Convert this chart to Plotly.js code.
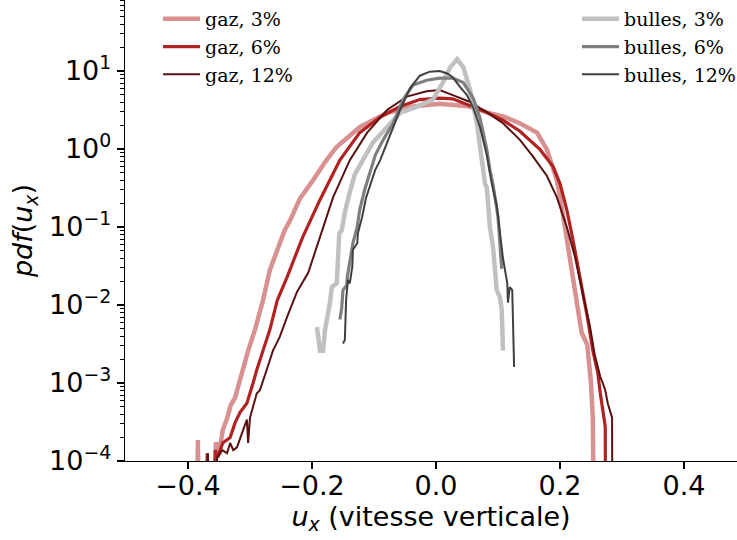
<!DOCTYPE html>
<html>
<head>
<meta charset="utf-8">
<script src="https://cdn.plot.ly/plotly-3.0.1.min.js"></script>
<style>html,body{margin:0;padding:0;background:#fff;}#chart{width:737px;height:540px;}</style>
</head>
<body>
<div id="chart"></div>
<script>
// ---- data (u_x, pdf) ----
const gaz3_u = [-0.387, -0.384, -0.381, -0.360, -0.355, -0.350, -0.344, -0.337, -0.331, -0.324, -0.319, -0.311, -0.303, -0.292, -0.279, -0.268, -0.256, -0.244, -0.235, -0.219, -0.198, -0.179, -0.160, -0.123, -0.079, -0.037, 0.006, 0.055, 0.082, 0.111, 0.135, 0.163, 0.179, 0.195, 0.205, 0.213, 0.224, 0.235, 0.244, 0.250, 0.253, 0.256];
const gaz3_pdf = [1e-6, 1.86e-4, 1e-6, 1e-6, 1.74e-4, 1.2e-4, 2.5e-4, 3.5e-4, 5.2e-4, 6.5e-4, 9.3e-4, 1.48e-3, 2.6e-3, 4.8e-3, 0.0115, 0.028, 0.051, 0.091, 0.123, 0.234, 0.40, 0.68, 1.07, 1.9, 2.9, 3.5, 3.8, 3.5, 2.95, 2.57, 2.14, 1.62, 0.98, 0.40, 0.141, 0.051, 0.0155, 4.4e-3, 3.1e-3, 1.0e-3, 3.4e-4, 1e-6];

const gaz6_u = [-0.373, -0.369, -0.361, -0.356, -0.352, -0.344, -0.332, -0.324, -0.316, -0.305, -0.295, -0.289, -0.279, -0.268, -0.256, -0.240, -0.215, -0.187, -0.155, -0.123, -0.090, -0.058, -0.026, 0.006, 0.027, 0.055, 0.082, 0.108, 0.135, 0.168, 0.189, 0.200, 0.211, 0.221, 0.232, 0.244, 0.253, 0.261, 0.265, 0.268, 0.273, 0.274];
const gaz6_pdf = [1e-6, 1.26e-4, 1e-6, 1.38e-4, 1.12e-4, 1.7e-4, 2.0e-4, 3.1e-4, 4.2e-4, 5.5e-4, 1.0e-3, 1.48e-3, 2.6e-3, 4.8e-3, 0.0115, 0.023, 0.074, 0.224, 0.72, 1.62, 2.57, 3.5, 4.3, 4.5, 4.4, 3.6, 2.95, 2.34, 1.70, 0.98, 0.59, 0.36, 0.166, 0.068, 0.024, 7.1e-3, 2.6e-3, 1.35e-3, 7.4e-4, 4.9e-4, 2.75e-4, 1e-6];

const gaz12_u = [-0.373, -0.368, -0.360, -0.353, -0.345, -0.337, -0.332, -0.327, -0.321, -0.316, -0.311, -0.305, -0.303, -0.300, -0.295, -0.289, -0.284, -0.276, -0.273, -0.263, -0.252, -0.240, -0.224, -0.206, -0.187, -0.166, -0.139, -0.111, -0.079, -0.047, -0.015, 0.006, 0.027, 0.055, 0.082, 0.108, 0.135, 0.156, 0.179, 0.195, 0.211, 0.224, 0.237, 0.248, 0.256, 0.265, 0.269, 0.273, 0.277, 0.284, 0.285];
const gaz12_pdf = [1e-6, 1.26e-4, 1e-6, 1.1e-4, 1.38e-4, 1.26e-4, 1.7e-4, 1.38e-4, 1.5e-4, 2.0e-4, 2.5e-4, 3.4e-4, 1.7e-4, 3.6e-4, 4.9e-4, 7.4e-4, 8.1e-4, 1.2e-3, 1.48e-3, 2.6e-3, 3.9e-3, 7.1e-3, 0.0148, 0.026, 0.074, 0.24, 0.72, 1.62, 3.16, 4.7, 5.5, 5.7, 4.9, 4.0, 2.95, 2.14, 1.32, 0.81, 0.45, 0.24, 0.10, 0.042, 0.0135, 5.5e-3, 2.3e-3, 1.2e-3, 1.0e-3, 8.1e-4, 5.5e-4, 3.6e-4, 1e-6];

const bul3_u = [-0.192, -0.187, -0.182, -0.179, -0.171, -0.168, -0.160, -0.158, -0.156, -0.152, -0.147, -0.139, -0.131, -0.118, -0.102, -0.079, -0.058, -0.031, -0.005, 0.011, 0.023, 0.034, 0.044, 0.055, 0.066, 0.074, 0.079, 0.082, 0.087, 0.092, 0.098, 0.103, 0.106, 0.108];
const bul3_pdf = [5.2e-3, 2.6e-3, 2.6e-3, 4.8e-3, 0.0107, 0.017, 0.019, 0.042, 0.083, 0.091, 0.155, 0.28, 0.47, 0.72, 1.2, 1.9, 2.9, 3.5, 4.3, 7.1, 11.2, 14.1, 11.2, 5.7, 2.14, 0.72, 0.36, 0.32, 0.10, 0.055, 0.0155, 0.0126, 8.7e-3, 2.6e-3];

const bul6_u = [-0.155, -0.152, -0.150, -0.144, -0.143, -0.139, -0.134, -0.127, -0.123, -0.115, -0.106, -0.098, -0.085, -0.069, -0.053, -0.037, -0.015, 0.006, 0.027, 0.044, 0.060, 0.071, 0.082, 0.087, 0.092, 0.100, 0.103, 0.106];
const bul6_pdf = [6.5e-3, 9.3e-3, 0.0155, 0.018, 0.023, 0.035, 0.062, 0.10, 0.166, 0.30, 0.51, 0.83, 1.32, 2.14, 4.3, 6.6, 7.6, 8.1, 8.1, 7.1, 4.5, 2.5, 0.98, 0.54, 0.35, 0.135, 0.062, 0.029];

const bul12_u = [-0.150, -0.147, -0.145, -0.142, -0.139, -0.135, -0.134, -0.127, -0.126, -0.119, -0.113, -0.106, -0.098, -0.090, -0.074, -0.058, -0.042, -0.026, -0.010, 0.006, 0.018, 0.027, 0.039, 0.050, 0.060, 0.071, 0.082, 0.090, 0.098, 0.103, 0.108, 0.115, 0.116, 0.119, 0.123, 0.124, 0.125, 0.126];
const bul12_pdf = [3.2e-3, 3.55e-3, 0.0115, 0.021, 0.019, 0.031, 0.051, 0.062, 0.083, 0.135, 0.234, 0.35, 0.54, 0.72, 1.51, 3.16, 6.0, 8.7, 9.8, 10.0, 9.3, 8.3, 6.2, 4.9, 3.4, 1.9, 0.83, 0.36, 0.19, 0.091, 0.040, 0.019, 0.0107, 0.017, 0.0155, 7.1e-3, 3.2e-3, 1.6e-3];

const seriesNames = ['gaz, 3%', 'gaz, 6%', 'gaz, 12%', 'bulles, 3%', 'bulles, 6%', 'bulles, 12%'];
const xTickVals = [-0.4, -0.2, 0.0, 0.2, 0.4];
const xTickText = ['\u22120.4', '\u22120.2', '0.0', '0.2', '0.4'];
const yTickVals = [1e-4, 1e-3, 1e-2, 1e-1, 1, 10];
const yTickText = ['10<sup>\u22124</sup>', '10<sup>\u22123</sup>', '10<sup>\u22122</sup>', '10<sup>\u22121</sup>', '10<sup>0</sup>', '10<sup>1</sup>'];
const yMinorTickVals = [
  2e-4, 3e-4, 4e-4, 5e-4, 6e-4, 7e-4, 8e-4, 9e-4,
  2e-3, 3e-3, 4e-3, 5e-3, 6e-3, 7e-3, 8e-3, 9e-3,
  0.02, 0.03, 0.04, 0.05, 0.06, 0.07, 0.08, 0.09,
  0.2, 0.3, 0.4, 0.5, 0.6, 0.7, 0.8, 0.9,
  2, 3, 4, 5, 6, 7, 8, 9,
  20, 30, 40, 50, 60, 70, 80
];

// ---- styling ----
const styles = [
  {color: '#d89090', width: 4.5, legend: 'legend', yaxis: 'y'},
  {color: '#b22222', width: 3.2, legend: 'legend', yaxis: 'y'},
  {color: '#591111', width: 2.0, legend: 'legend', yaxis: 'y'},
  {color: '#c0c0c0', width: 4.5, legend: 'legend2', yaxis: 'y'},
  {color: '#7f7f7f', width: 3.2, legend: 'legend2', yaxis: 'y'},
  {color: '#404040', width: 2.0, legend: 'legend2', yaxis: 'y2'}
];
const xs = [gaz3_u, gaz6_u, gaz12_u, bul3_u, bul6_u, bul12_u];
const ys = [gaz3_pdf, gaz6_pdf, gaz12_pdf, bul3_pdf, bul6_pdf, bul12_pdf];

const traces = xs.map((x, i) => ({
  type: 'scatter', mode: 'lines', x: x, y: ys[i], name: seriesNames[i],
  legend: styles[i].legend, xaxis: 'x', yaxis: styles[i].yaxis,
  line: {color: styles[i].color, width: styles[i].width, shape: 'linear'},
  hoverinfo: 'skip'
}));

const legendFont = {family: 'DejaVu Serif, serif', size: 19, color: '#000'};
const axisFont = {family: 'DejaVu Sans, sans-serif', size: 27, color: '#000'};
const yRange = [-4, 1.91];
const layout = {
  width: 737, height: 540,
  margin: {l: 125, r: 0, t: 0, b: 79, autoexpand: false},
  paper_bgcolor: '#fff', plot_bgcolor: '#fff',
  font: axisFont,
  showlegend: true,
  legend: {x: 0.054, y: 1.0, xanchor: 'left', yanchor: 'top', bgcolor: 'rgba(0,0,0,0)', borderwidth: 0, font: legendFont, itemwidth: 37, tracegroupgap: 0},
  legend2: {x: 0.7386, y: 1.0, xanchor: 'left', yanchor: 'top', bgcolor: 'rgba(0,0,0,0)', borderwidth: 0, font: legendFont, itemwidth: 37, tracegroupgap: 0},
  xaxis: {
    type: 'linear', range: [-0.5016, 0.4855],
    tickmode: 'array', tickvals: xTickVals, ticktext: xTickText,
    ticks: 'outside', ticklen: 7, tickwidth: 1.3, tickcolor: '#000',
    ticklabelstandoff: -7,
    showline: true, linecolor: '#000', linewidth: 1.3, mirror: false,
    showgrid: false, zeroline: false,
    tickfont: axisFont,
    title: {text: '<i>u<sub>x</sub></i> (vitesse verticale)', font: axisFont, standoff: 2},
    automargin: false
  },
  yaxis: {
    type: 'log', range: yRange,
    tickmode: 'array', tickvals: yTickVals, ticktext: yTickText,
    ticks: 'outside', ticklen: 7, tickwidth: 1.3, tickcolor: '#000',
    showline: true, linecolor: '#000', linewidth: 1.3, mirror: false,
    showgrid: false, zeroline: false,
    tickfont: axisFont,
    title: {text: '<i>pdf</i>(<i>u<sub>x</sub></i>)', font: axisFont, standoff: 8},
    automargin: false
  },
  yaxis2: {
    type: 'log', range: yRange, overlaying: 'y', side: 'left', anchor: 'x',
    tickmode: 'array', tickvals: yMinorTickVals, showticklabels: false,
    ticks: 'outside', ticklen: 4, tickwidth: 1, tickcolor: '#000',
    showline: false, showgrid: false, zeroline: false, automargin: false
  }
};

Plotly.newPlot('chart', traces, layout, {staticPlot: true, displayModeBar: false});
</script>
</body>
</html>
